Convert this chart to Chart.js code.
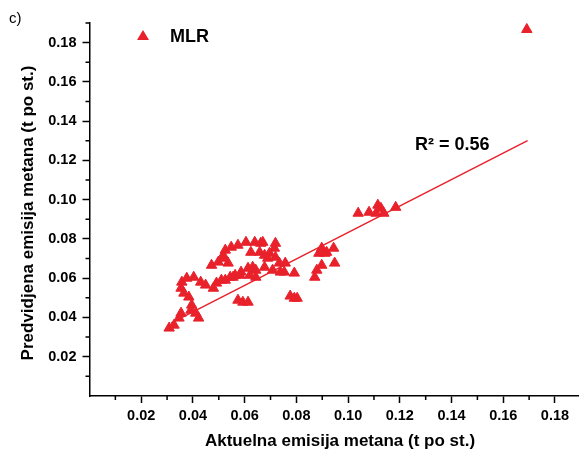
<!DOCTYPE html>
<html lang="sr">
<head>
<meta charset="UTF-8">
<title>MLR</title>
<style>
    body {
        margin: 0;
        background: #fff;
    }
    #wrap {
        position: relative;
        width: 585px;
        height: 452px;
    }
</style>
<script src="https://cdn.jsdelivr.net/npm/chart.js"></script>
</head>
<body>
<div id="wrap"><canvas id="mlrChart"></canvas></div>
<script>
// actual vs. predicted methane emission (t po st.)
const actual = [
    0.0308, 0.0327, 0.0346, 0.0354, 0.0395, 0.0392, 0.0411, 0.0422, 0.0354, 0.0365,
    0.0384, 0.0357, 0.0376, 0.0403, 0.0430, 0.0449, 0.0472, 0.0498, 0.0517, 0.0536,
    0.0517, 0.0525, 0.0548, 0.0574, 0.0605, 0.0639, 0.0662, 0.0670, 0.0624, 0.0658,
    0.0677, 0.0696, 0.0715, 0.0719, 0.0719, 0.0689, 0.0734, 0.0757, 0.0753, 0.0792,
    0.0631, 0.0643, 0.0643, 0.0620, 0.0613, 0.0586, 0.0563, 0.0544, 0.0510, 0.0491,
    0.0479, 0.0677, 0.0708, 0.0738, 0.0525, 0.0555, 0.0582, 0.0574, 0.0593, 0.0613,
    0.0776, 0.0792, 0.0803, 0.0871, 0.0879, 0.0898, 0.0887, 0.0910, 0.0898, 0.0917,
    0.0944, 0.0948, 0.1039, 0.1081, 0.1108, 0.1115, 0.1127, 0.1138, 0.1184, 0.1691
];
const predicted = [
    0.0346, 0.0361, 0.0397, 0.0422, 0.0463, 0.0437, 0.0422, 0.0397, 0.0549, 0.0524,
    0.0504, 0.0580, 0.0600, 0.0605, 0.0580, 0.0565, 0.0666, 0.0682, 0.0702, 0.0677,
    0.0717, 0.0743, 0.0758, 0.0768, 0.0783, 0.0783, 0.0778, 0.0783, 0.0732, 0.0732,
    0.0717, 0.0727, 0.0753, 0.0778, 0.0707, 0.0702, 0.0677, 0.0677, 0.0631, 0.0626,
    0.0656, 0.0641, 0.0605, 0.0615, 0.0651, 0.0631, 0.0615, 0.0605, 0.0590, 0.0575,
    0.0549, 0.0656, 0.0641, 0.0631, 0.0590, 0.0605, 0.0615, 0.0488, 0.0478, 0.0478,
    0.0509, 0.0498, 0.0498, 0.0605, 0.0641, 0.0666, 0.0727, 0.0727, 0.0753, 0.0732,
    0.0753, 0.0677, 0.0931, 0.0936, 0.0931, 0.0972, 0.0956, 0.0931, 0.0961, 0.1867
];

// linear fit
const fitSlope = 0.674;
const fitIntercept = 0.0159;
const fitRange = [0.0315, 0.1694];
const rSquared = '0.56';

const red = '#e8212b';
const FONT = '"Liberation Sans", Arial, sans-serif';

function hundredths(v) {
    return Math.round(v * 100);
}

// labels only on even hundredths, odd ones get short ticks from the plugin
function majorLabel(v) {
    const h = hundredths(v);
    if (h === 0 || h % 2 !== 0) return null;
    return (h / 100).toFixed(2);
}

const extras = {
    id: 'extras',
    afterDraw(chart) {
        const ctx = chart.ctx;
        const xs = chart.scales.x;
        const ys = chart.scales.y;
        ctx.save();

        // minor ticks
        ctx.strokeStyle = '#000';
        ctx.lineWidth = 1.5;
        ctx.beginPath();
        for (let h = 1; h <= 18; h += 2) {
            const px = xs.getPixelForValue(h / 100);
            ctx.moveTo(px, xs.top);
            ctx.lineTo(px, xs.top + 4);
        }
        for (let h = 1; h <= 19; h += 2) {
            const py = ys.getPixelForValue(h / 100);
            ctx.moveTo(ys.right - 4, py);
            ctx.lineTo(ys.right, py);
        }
        ctx.stroke();

        ctx.fillStyle = '#000';
        ctx.textBaseline = 'middle';

        // panel letter
        ctx.font = '15px ' + FONT;
        ctx.textAlign = 'left';
        ctx.fillText('c)', 9, 19);

        // axis titles
        ctx.font = 'bold 17px ' + FONT;
        ctx.textAlign = 'center';
        ctx.fillText('Aktuelna emisija metana (t po st.)', 340, 441);
        ctx.save();
        ctx.translate(28, 213);
        ctx.rotate(-Math.PI / 2);
        ctx.fillText('Predvidjena emisija metana (t po st.)', 0, 0);
        ctx.restore();

        // legend
        ctx.fillStyle = red;
        ctx.beginPath();
        ctx.moveTo(143, 30);
        ctx.lineTo(149, 40);
        ctx.lineTo(137, 40);
        ctx.closePath();
        ctx.fill();
        ctx.fillStyle = '#000';
        ctx.font = 'bold 18px ' + FONT;
        ctx.textAlign = 'left';
        ctx.fillText('MLR', 170, 37);

        // fit annotation
        ctx.fillText('R\u00b2 = ' + rSquared, 415, 145);
        ctx.restore();
    }
};

const points = actual.map((x, i) => ({ x: x, y: predicted[i] }));
const fitLine = fitRange.map(x => ({ x: x, y: fitIntercept + fitSlope * x }));

new Chart(document.getElementById('mlrChart'), {
    type: 'scatter',
    data: {
        datasets: [
            {
                label: 'MLR',
                data: points,
                pointStyle: 'triangle',
                pointRadius: 6,
                pointBorderWidth: 1,
                backgroundColor: red,
                borderColor: red
            },
            {
                type: 'line',
                label: 'fit',
                data: fitLine,
                borderColor: red,
                borderWidth: 1.5,
                pointRadius: 0,
                fill: false
            }
        ]
    },
    options: {
        responsive: true,
        maintainAspectRatio: false,
        animation: false,
        events: [],
        layout: {
            padding: { top: 23, right: 0, left: 0, bottom: 0 }
        },
        plugins: {
            legend: { display: false },
            tooltip: { enabled: false }
        },
        scales: {
            x: {
                type: 'linear',
                min: 0,
                max: 0.1889,
                afterFit: s => { s.height = 56; },
                border: { color: '#000', width: 1.5 },
                grid: {
                    drawOnChartArea: false,
                    tickLength: 7,
                    tickColor: '#000',
                    tickWidth: 1.5
                },
                ticks: {
                    stepSize: 0.01,
                    includeBounds: false,
                    autoSkip: false,
                    maxRotation: 0,
                    padding: 4,
                    color: '#000',
                    font: { family: FONT, size: 14.5, weight: 'bold' },
                    callback: majorLabel
                }
            },
            y: {
                type: 'linear',
                min: 0,
                max: 0.19,
                afterFit: s => { s.width = 89.5; },
                border: { color: '#000', width: 1.5 },
                grid: {
                    drawOnChartArea: false,
                    tickLength: 7,
                    tickColor: '#000',
                    tickWidth: 1.5
                },
                ticks: {
                    stepSize: 0.01,
                    autoSkip: false,
                    padding: 6,
                    color: '#000',
                    font: { family: FONT, size: 14.5, weight: 'bold' },
                    callback: majorLabel
                }
            }
        }
    },
    plugins: [extras]
});
</script>
</body>
</html>
